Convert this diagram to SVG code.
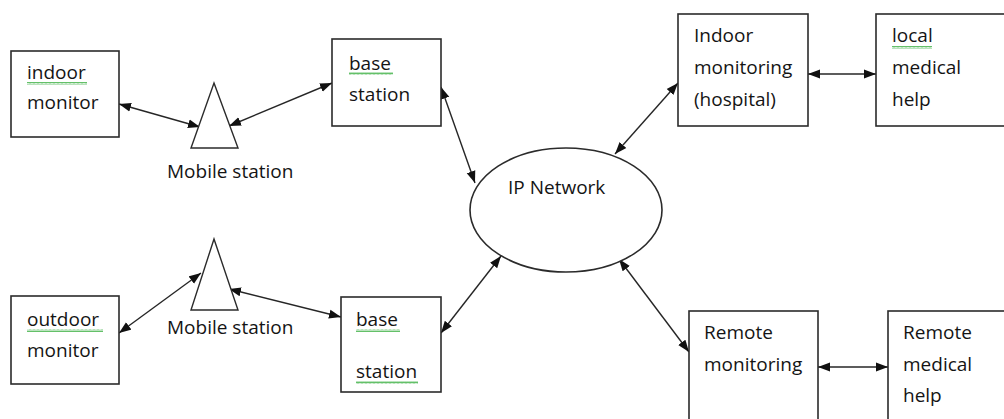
<svg xmlns="http://www.w3.org/2000/svg" width="1004" height="419" viewBox="0 0 1004 419">
<style>
.box{fill:#fff;stroke:#2b2b2b;stroke-width:1.6}
.tri{fill:#fff;stroke:#2b2b2b;stroke-width:1.4}
.t{font-family:"Open Sans","Liberation Sans",sans-serif;font-size:19px;fill:#141414}
.c{stroke:#262626;stroke-width:1.4;fill:none;marker-start:url(#ah);marker-end:url(#ah)}
</style>
<defs>
<marker id="ah" viewBox="0 0 12 10" refX="12" refY="5" markerWidth="12" markerHeight="10" markerUnits="userSpaceOnUse" orient="auto-start-reverse">
<path d="M0,0.5 L12,5 L0,9.5 Z" fill="#111"/>
</marker>
<pattern id="wv" width="4" height="3" patternUnits="userSpaceOnUse">
<path d="M0,2.5 L1,0.5 L2,2.5 L3,0.5 L4,2.5" fill="none" stroke="#3cb043" stroke-width="0.8"/>
</pattern>
</defs>

<g id="connectors">
<line class="c" x1="119" y1="104" x2="200" y2="127"/>
<line class="c" x1="229" y1="126" x2="332" y2="83"/>
<line class="c" x1="441" y1="87" x2="475" y2="183"/>
<line class="c" x1="119" y1="333" x2="201" y2="273"/>
<line class="c" x1="229" y1="289" x2="341" y2="317"/>
<line class="c" x1="441" y1="333" x2="501" y2="256"/>
<line class="c" x1="615" y1="154" x2="678" y2="83"/>
<line class="c" x1="619" y1="259" x2="689" y2="352"/>
<line class="c" x1="808" y1="74" x2="876" y2="74"/>
<line class="c" x1="818" y1="367" x2="888" y2="367"/>
</g>

<g id="indoor-monitor">
<rect class="box" x="11" y="51" width="108" height="86"/>
<text class="t" x="27" y="79">indoor</text>
<text class="t" x="27" y="109">monitor</text>
<rect x="27" y="82" width="60" height="3" fill="url(#wv)"/>
</g>

<g id="mobile-station-1">
<polygon class="tri" points="214,83 238,148 191,148"/>
<text class="t" x="167" y="178">Mobile station</text>
</g>

<g id="base-station-1">
<rect class="box" x="332" y="39" width="109" height="87"/>
<text class="t" x="349" y="70">base</text>
<text class="t" x="349" y="101">station</text>
<rect x="349" y="72" width="44" height="3" fill="url(#wv)"/>
</g>

<g id="outdoor-monitor">
<rect class="box" x="11" y="296" width="108" height="88"/>
<text class="t" x="27" y="326">outdoor</text>
<text class="t" x="27" y="357">monitor</text>
<rect x="27" y="329" width="76" height="3" fill="url(#wv)"/>
</g>

<g id="mobile-station-2">
<polygon class="tri" points="214,239 238,310 191,310"/>
<text class="t" x="167" y="334">Mobile station</text>
</g>

<g id="base-station-2">
<rect class="box" x="341" y="297" width="100" height="95"/>
<text class="t" x="356" y="326">base</text>
<text class="t" x="356" y="378">station</text>
<rect x="356" y="329" width="44" height="3" fill="url(#wv)"/>
<rect x="356" y="381" width="62" height="3" fill="url(#wv)"/>
</g>

<g id="ip-network">
<ellipse class="box" cx="566" cy="210" rx="96" ry="62" stroke-width="1.4"/>
<text class="t" x="508" y="194">IP Network</text>
</g>

<g id="indoor-monitoring">
<rect class="box" x="678" y="14" width="130" height="112"/>
<text class="t" x="694" y="42">Indoor</text>
<text class="t" x="694" y="74">monitoring</text>
<text class="t" x="694" y="106">(hospital)</text>
</g>

<g id="local-medical-help">
<rect class="box" x="876" y="14" width="140" height="112"/>
<text class="t" x="892" y="42">local</text>
<text class="t" x="892" y="74">medical</text>
<text class="t" x="892" y="106">help</text>
<rect x="892" y="46" width="40" height="3" fill="url(#wv)"/>
</g>

<g id="remote-monitoring">
<rect class="box" x="689" y="311" width="129" height="120"/>
<text class="t" x="704" y="339">Remote</text>
<text class="t" x="704" y="371">monitoring</text>
</g>

<g id="remote-medical-help">
<rect class="box" x="888" y="311" width="130" height="120"/>
<text class="t" x="903" y="339">Remote</text>
<text class="t" x="903" y="371">medical</text>
<text class="t" x="903" y="402">help</text>
</g>
</svg>
